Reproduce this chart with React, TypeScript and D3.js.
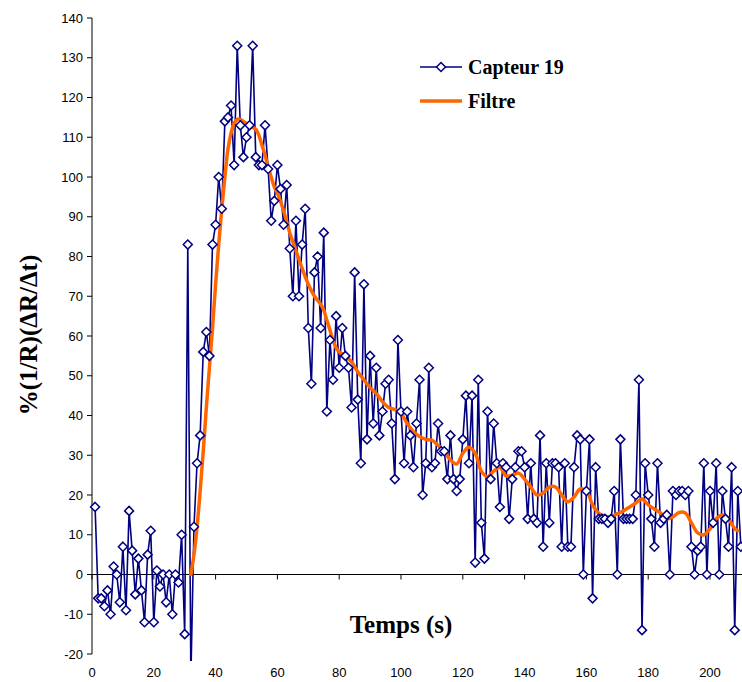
import React from 'react';
import * as d3 from 'd3';

// Capteur 19 : one sample per second, starting at t = 1 s
const capteurStart = 1;
const capteurValues = [
  17, -6, -6, -8, -4, -10, 2, 0, -7, 7,
  -9, 16, 6, -5, 4, -4, -12, 5, 11, -12,
  1, -3, 0, -7, 0, -10, 0, -2, 10, -15,
  83, -26, 12, 28, 35, 56, 61, 55, 83, 88,
  100, 92, 114, 115, 118, 103, 133, 113, 105, 110,
  113, 133, 105, 103, 103, 113, 102, 89, 94, 103,
  97, 88, 98, 82, 70, 89, 70, 83, 92, 62,
  48, 76, 80, 62, 86, 41, 59, 49, 65, 52,
  62, 55, 52, 42, 76, 44, 28, 73, 34, 55,
  38, 52, 35, 41, 48, 49, 38, 24, 59, 41,
  28, 41, 35, 27, 38, 49, 20, 28, 52, 27,
  28, 38, 31, 31, 24, 35, 24, 21, 24, 34,
  45, 28, 45, 3, 49, 13, 4, 41, 24, 38,
  28, 17, 28, 27, 14, 24, 27, 31, 31, 27,
  14, 28, 14, 13, 35, 7, 28, 13, 28, 28,
  27, 7, 28, 7, 7, 27, 35, 34, 0, 21,
  34, -6, 27, 14, 14, 14, 13, 14, 21, 0,
  34, 14, 14, 14, 14, 20, 49, -14, 28, 20,
  14, 7, 28, 13, 14, 15, 0, 21, 20, 21,
  21, 20, 21, 7, 0, 6, 7, 28, 0, 21,
  13, 28, 0, 21, 14, 7, 27, -14, 21, 7,
];

// Filtre (smoothed curve)
const filtreTime = [
  32, 33, 34, 35, 36, 37, 38, 39, 40, 41, 42, 43, 44, 45, 46, 47, 48, 49, 50,
  51, 52, 53, 54, 55, 56, 57, 58, 59, 60, 62, 64, 66, 68, 70, 72, 74, 75, 76,
  77, 78, 79, 80, 82, 84, 86, 88, 90, 92, 94, 96, 98, 100, 102, 104, 106, 108,
  110, 112, 114, 116, 118, 120, 122, 124, 126, 128, 130, 132, 134, 136, 138,
  140, 142, 144, 146, 148, 150, 152, 154, 156, 158, 160, 162, 164, 166, 168,
  170, 172, 174, 176, 178, 180, 182, 184, 186, 188, 190, 192, 194, 196, 198,
  200, 202, 204, 206, 208, 209,
];
const filtreValues = [
  0, 5, 12, 21, 31, 42, 52, 62, 73, 83, 92, 100, 107, 111, 113.5, 114.5, 114.5, 114, 113.5,
  113, 112.5, 112, 110.5, 108, 105.5, 102.5, 100, 97.5, 96, 91.5, 86, 81.5, 77, 73, 70, 68, 66.5, 64,
  61.5, 59, 57, 56, 55, 53.5, 51, 49, 47, 45.5, 43.5, 42, 41.5, 40.5, 38, 36, 34.7, 34,
  33.8, 32.5, 31, 28.8, 27.8, 30.5, 32, 30.5, 26, 24.6, 26, 27, 24.8, 25, 25.5,
  24, 22, 20, 20.5, 22, 22, 20, 18.3, 19.5, 21.5, 21, 17.5, 15.4, 14.7, 14.5,
  15.3, 16, 17, 18, 19, 17.5, 16.5, 15.5, 14, 14.5, 15.6, 15.5, 13, 10.5, 10,
  11.5, 14, 15, 14, 11.5, 11,
];

const xTicks = [0, 20, 40, 60, 80, 100, 120, 140, 160, 180, 200];
const yTicks = [-20, -10, 0, 10, 20, 30, 40, 50, 60, 70, 80, 90, 100, 110, 120, 130, 140];

const seriesNames = ['Capteur 19', 'Filtre'];
const xTitle = 'Temps (s)';
const yTitle = '%(1/R)(ΔR/Δt)';

const NAVY = '#000080';
const ORANGE = '#FF6600';

export default function App() {
  const W = 742;
  const H = 682;
  const x = d3.scaleLinear().domain([0, 220]).range([92, 92 + 220 * 3.09]);
  const y = d3.scaleLinear().domain([-20, 140]).range([654, 18]);

  const capPts: [number, number][] = capteurValues.map((v, i) => [capteurStart + i, v]);
  const filtPts: [number, number][] = filtreTime.map((t, i) => [t, filtreValues[i]]);

  const line = d3
    .line<[number, number]>()
    .x((d) => x(d[0]))
    .y((d) => y(d[1]));
  const smooth = d3
    .line<[number, number]>()
    .x((d) => x(d[0]))
    .y((d) => y(d[1]))
    .curve(d3.curveCatmullRom.alpha(0.5));

  const diamond = 'M0,-4.5L4.5,0L0,4.5L-4.5,0Z';
  const y0 = y(0);
  const axisColor = '#000';
  const tickFont = "'Liberation Sans', Arial, sans-serif";
  const titleFont = "'Liberation Serif', 'Times New Roman', serif";

  return (
    <svg
      width={W}
      height={H}
      style={{ position: 'absolute', left: 0, top: 0, background: '#fff' }}
    >
      <defs>
        <clipPath id="plotClip">
          <rect x={0} y={0} width={W} height={661} />
        </clipPath>
      </defs>
      <rect x={0} y={0} width={W} height={H} fill="#fff" />

      {/* Y axis */}
      <line x1={x(0)} x2={x(0)} y1={y(140)} y2={y(-20)} stroke={axisColor} strokeWidth={1} />
      {yTicks.map((t) => (
        <g key={'y' + t}>
          <line x1={x(0) - 5} x2={x(0)} y1={y(t)} y2={y(t)} stroke={axisColor} strokeWidth={1} />
          <text
            x={x(0) - 9}
            y={y(t)}
            dy="0.35em"
            textAnchor="end"
            fontFamily={tickFont}
            fontSize={13}
            fill="#000"
          >
            {t}
          </text>
        </g>
      ))}

      {/* X axis at y = 0 */}
      <line x1={x(0)} x2={W} y1={y0} y2={y0} stroke={axisColor} strokeWidth={1} />
      {xTicks.map((t) => (
        <g key={'x' + t}>
          <line x1={x(t)} x2={x(t)} y1={y0} y2={y0 + 5} stroke={axisColor} strokeWidth={1} />
          <text
            x={x(t)}
            y={677}
            textAnchor="middle"
            fontFamily={tickFont}
            fontSize={13}
            fill="#000"
          >
            {t}
          </text>
        </g>
      ))}

      <g clipPath="url(#plotClip)">
        {/* Capteur series */}
        <path d={line(capPts) || ''} fill="none" stroke={NAVY} strokeWidth={1.6} strokeLinejoin="round" />
        {/* Filtre */}
        <path d={smooth(filtPts) || ''} fill="none" stroke={ORANGE} strokeWidth={3.5} strokeLinejoin="round" strokeLinecap="round" />
        {/* markers */}
        {capPts.map((d, i) => (
          <path
            key={'m' + i}
            d={diamond}
            transform={`translate(${x(d[0])},${y(d[1])})`}
            fill="#fff"
            stroke={NAVY}
            strokeWidth={1.5}
          />
        ))}
      </g>

      {/* Axis titles */}
      <text
        x={401}
        y={633}
        textAnchor="middle"
        fontFamily={titleFont}
        fontWeight="bold"
        fontSize={25}
        fill="#000"
      >
        {xTitle}
      </text>
      <text
        transform={`translate(37,335) rotate(-90)`}
        textAnchor="middle"
        fontFamily={titleFont}
        fontWeight="bold"
        fontSize={25}
        fill="#000"
      >
        {yTitle}
      </text>

      {/* Legend */}
      <g>
        <line x1={420} x2={462} y1={67} y2={67} stroke={NAVY} strokeWidth={1.6} />
        <path d={diamond} transform="translate(441,67)" fill="#fff" stroke={NAVY} strokeWidth={1.5} />
        <text x={468} y={74} fontFamily={titleFont} fontWeight="bold" fontSize={20} fill="#000">
          {seriesNames[0]}
        </text>
        <line x1={420} x2={462} y1={101} y2={101} stroke={ORANGE} strokeWidth={3.5} />
        <text x={468} y={108} fontFamily={titleFont} fontWeight="bold" fontSize={20} fill="#000">
          {seriesNames[1]}
        </text>
      </g>
    </svg>
  );
}
